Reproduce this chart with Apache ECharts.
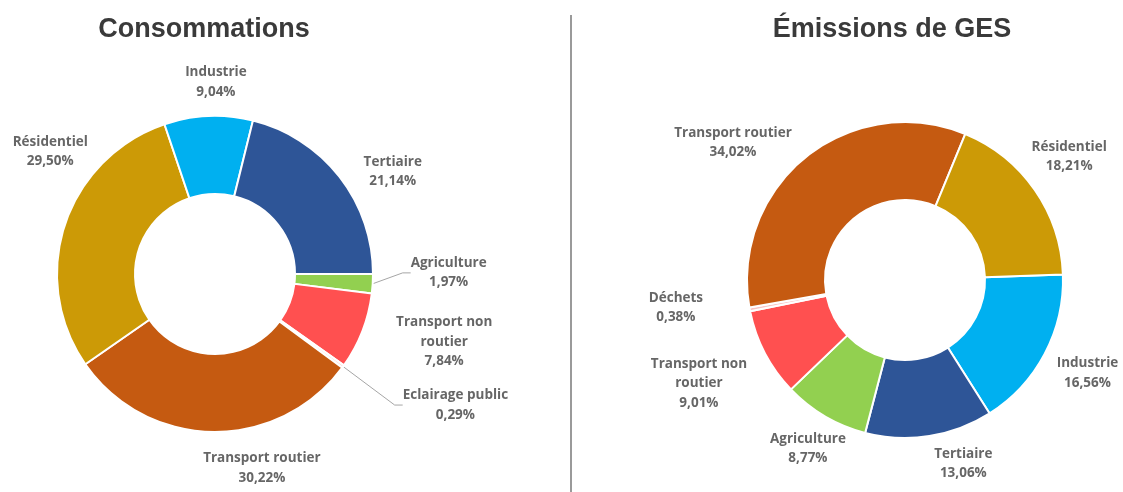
<!DOCTYPE html>
<html>
<head>
<meta charset="utf-8">
<script src="https://cdn.jsdelivr.net/npm/echarts@6/dist/echarts.min.js"></script>
<style>
html,body{margin:0;padding:0;background:#fff;}
#chart{width:1123px;height:492px;}
</style>
</head>
<body>
<div id="chart"></div>
<script>
// ---- data (clockwise from 3 o'clock) ----
const consoNames = ['Agriculture', 'Transport non routier', 'Eclairage public', 'Transport routier', 'Résidentiel', 'Industrie', 'Tertiaire'];
const consoValues = [1.97, 7.84, 0.29, 30.22, 29.50, 9.04, 21.14];
const gesNames = ['Industrie', 'Tertiaire', 'Agriculture', 'Transport non routier', 'Déchets', 'Transport routier', 'Résidentiel'];
const gesValues = [16.56, 13.06, 8.77, 9.01, 0.38, 34.02, 18.21];
const titles = ['Consommations', 'Émissions de GES'];

// ---- styles ----
const colorOf = {
  'Agriculture': '#92D050',
  'Transport non routier': '#FF5050',
  'Eclairage public': '#FBD3CF',
  'Déchets': '#F9C5C5',
  'Transport routier': '#C55A11',
  'Résidentiel': '#CC9A06',
  'Industrie': '#00B0F0',
  'Tertiaire': '#2E5597'
};
const withLine = {0: ['Agriculture', 'Eclairage public'], 1: []};
// label nudges (px) from ECharts' outside placement, to mimic the original label layout
const labelNudge = {
  0: {'Industrie': [51, -16], 'Résidentiel': [52, -67], 'Tertiaire': [-2, 6], 'Agriculture': [8, -12],
      'Transport non routier': [5, 4], 'Eclairage public': [33, 28], 'Transport routier': [120, 18]},
  1: {'Transport routier': [9, 0], 'Résidentiel': [-30, -23], 'Déchets': [-17, -5], 'Transport non routier': [10, 22],
      'Industrie': [-16, 11], 'Agriculture': [42, 17], 'Tertiaire': [-10, 10]}
};

function fmt(p) {
  const name = p.name === 'Transport non routier' ? 'Transport non\nroutier' : p.name;
  return name + '\n' + p.value.toFixed(2).replace('.', ',') + '%';
}

function buildSeries(idx, names, values, center, startAngle) {
  return {
    type: 'pie',
    center: center,
    radius: [80, 158],
    startAngle: startAngle,
    clockwise: true,
    avoidLabelOverlap: false,
    itemStyle: {borderColor: '#ffffff', borderWidth: 2},
    label: {
      show: true,
      position: 'outside',
      formatter: fmt,
      color: '#666666',
      fontFamily: 'Open Sans',
      fontWeight: 'bold',
      fontSize: 13.5,
      lineHeight: 19.5,
      distanceToLabelLine: 4
    },
    labelLine: {show: true, length: 18, length2: 8, lineStyle: {color: '#A6A6A6', width: 1}},
    labelLayout: function (params) {
      const r = params.labelRect;
      const name = names[params.dataIndex];
      const n = labelNudge[idx][name] || [0, 0];
      return {x: r.x + r.width / 2 + n[0], y: r.y + r.height / 2 + n[1], align: 'center', verticalAlign: 'middle'};
    },
    emphasis: {disabled: true},
    data: names.map((n, i) => ({
      name: n,
      value: values[i],
      itemStyle: {color: colorOf[n]},
      labelLine: {show: withLine[idx].indexOf(n) >= 0}
    }))
  };
}

const chart = echarts.init(document.getElementById('chart'), null, {renderer: 'canvas'});
chart.setOption({
  animation: false,
  backgroundColor: '#ffffff',
  title: [
    {text: titles[0], left: 199, top: 11, textAlign: 'center',
     textStyle: {fontFamily: 'Liberation Sans', fontWeight: 'bold', fontSize: 27, color: '#3A3A3A'}},
    {text: titles[1], left: 887, top: 11, textAlign: 'center',
     textStyle: {fontFamily: 'Liberation Sans', fontWeight: 'bold', fontSize: 27, color: '#3A3A3A'}}
  ],
  graphic: [{
    type: 'line', shape: {x1: 571, y1: 15, x2: 571, y2: 492},
    style: {stroke: '#9A9A9A', lineWidth: 2}
  }],
  series: [
    buildSeries(0, consoNames, consoValues, [215, 274], 0),
    buildSeries(1, gesNames, gesValues, [905, 280], 2)
  ]
});
</script>
</body>
</html>
